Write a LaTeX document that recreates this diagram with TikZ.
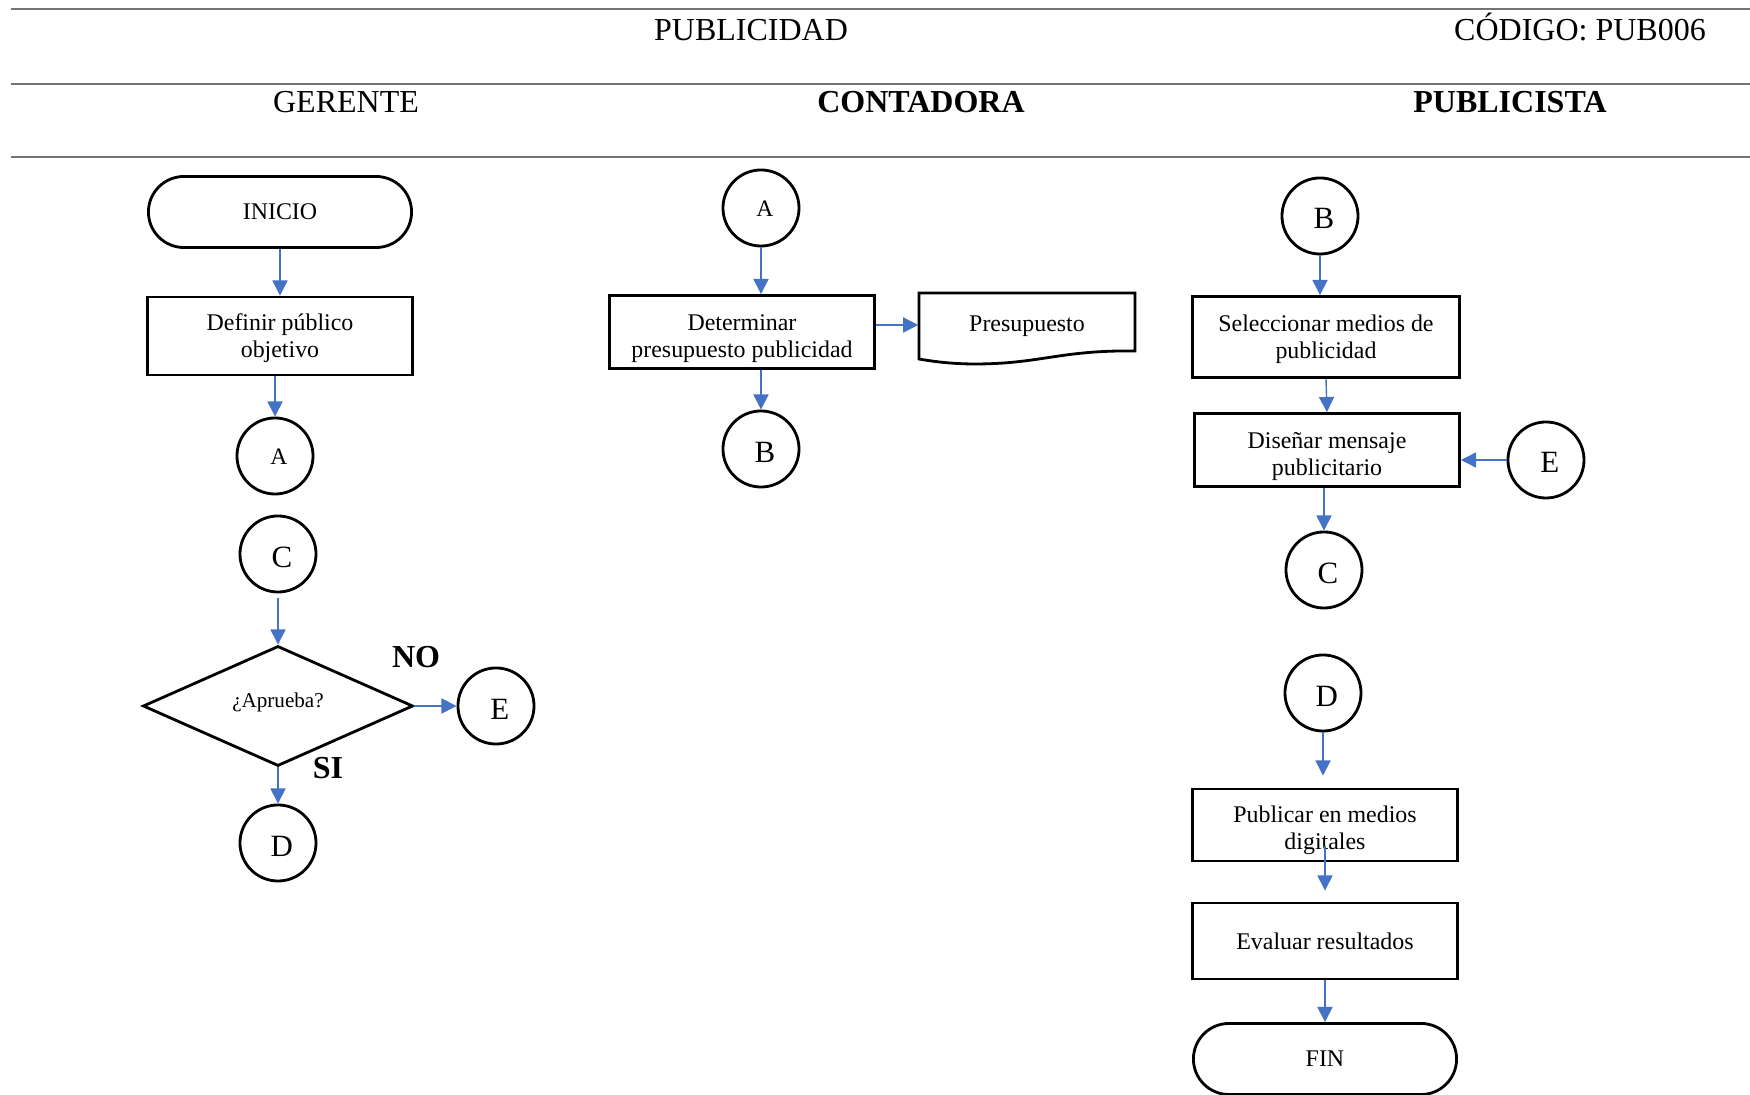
\documentclass[tikz,border=0pt]{standalone}
\usepackage{fontspec}
\setmainfont{Liberation Serif}
\usetikzlibrary{shapes.geometric,shapes.misc,arrows.meta}
\definecolor{azul}{RGB}{68,114,196}
% puntal para bajar el texto de una caja
\newcommand{\bajar}[1]{\rule{0pt}{#1}}

\begin{document}
\begin{tikzpicture}[x=0.01cm,y=-0.01cm,
        linea/.style={line width=0.8pt},
        titulo/.style={anchor=base,font=\fontsize{9.1}{11}\selectfont},
        caja/.style={draw,linea,rectangle,align=center,inner sep=0pt,
            minimum width=2.65cm,font=\fontsize{6.8}{7.7}\selectfont},
        terminal/.style={draw,linea,rounded rectangle,inner sep=0pt,
            minimum width=2.63cm,minimum height=0.71cm,font=\fontsize{6.8}{7.7}\selectfont},
        decision/.style={draw,linea,diamond,aspect=2.25,inner sep=0pt,text depth=3.3pt,
            minimum width=2.7cm,minimum height=1.2cm,font=\fontsize{6.0}{7}\selectfont},
        conector/.style={draw,linea,circle,minimum size=0.76cm,inner sep=0pt,
            text height=7.4pt,text depth=0pt,execute at begin node={\hspace*{2.2pt}},
            font=\fontsize{8.8}{10}\selectfont},
        chico/.style={font=\fontsize{6.7}{8}\selectfont,text height=4.6pt},
        etiqueta/.style={font=\fontsize{9.1}{11}\selectfont\bfseries},
        flecha/.style={draw=azul,line width=0.4pt,-{Triangle[length=4.3pt,width=4.3pt]}}]

        \useasboundingbox (0,0) rectangle (1750,1095);

        % Encabezado
        \draw[black!55,line width=0.6pt] (11,9) -- (1750,9);
        \draw[black!55,line width=0.6pt] (11,84) -- (1750,84);
        \draw[black!55,line width=0.6pt] (11,157) -- (1750,157);
        \node[titulo] (publicidad) at (751,41) {PUBLICIDAD};
        \node[titulo] (codigo) at (1580,41) {CÓDIGO: PUB006};
        \node[titulo] (gerente) at (346,113) {GERENTE};
        \node[titulo,font=\fontsize{9.1}{11}\selectfont\bfseries] (contadora) at (921,113) {CONTADORA};
        \node[titulo,font=\fontsize{9.1}{11}\selectfont\bfseries] (publicista) at (1510,113) {PUBLICISTA};

        % Gerente
        \node[terminal] (inicio) at (280,212) {INICIO};
        \node[caja,minimum height=0.78cm] (definir) at (280,336) {\bajar{6pt}Definir público\\objetivo};
        \node[conector,chico] (ga) at (275,456) {A};
        \node[conector] (gc) at (278,554) {C};
        \node[decision] (aprueba) at (278,706) {¿Aprueba?};
        \node[conector] (ge) at (496,706) {E};
        \node[conector] (gd) at (278,843) {D};
        \node[etiqueta] (no) at (416,657) {NO};
        \node[etiqueta] (si) at (328,768) {SI};

        \draw[flecha] (inicio.south) -- (definir.north);
        \draw[flecha] (definir.south -| ga.north) -- (ga.north);
        \draw[flecha,shorten <=0.05cm] (gc.south) -- (aprueba.north);
        \draw[flecha] (aprueba.east) -- (ge.west);
        \draw[flecha] (aprueba.south) -- (gd.north);

        % Contadora
        \node[conector,chico] (ca) at (761,208) {A};
        \node[caja,minimum height=0.73cm] (determinar) at (742,332) {\bajar{8.5pt}Determinar\\presupuesto publicidad};
        \draw[linea] (919,293) -- (1135,293) -- (1135,351)
            .. controls (1060,350) and (1040,364) .. (975,364)
            .. controls (950,364) and (930,361) .. (919,359) -- cycle;
        \node[minimum width=2.16cm,inner sep=0pt,font=\fontsize{6.8}{7.7}\selectfont]
            (presupuesto) at (1027,326) {Presupuesto};
        \node[conector] (cb) at (761,449) {B};

        \draw[flecha] (ca.south) -- (ca.south |- determinar.north);
        \draw[flecha] (determinar.east |- 0,325) -- (presupuesto.west |- 0,325);
        \draw[flecha] (cb.north |- determinar.south) -- (cb.north);

        % Publicista
        \node[conector] (pb) at (1320,216) {B};
        \node[caja,minimum width=2.67cm,minimum height=0.81cm] (seleccionar) at (1326,337) {\bajar{6pt}Seleccionar medios de\\publicidad};
        \node[caja,minimum height=0.73cm] (disenar) at (1327,450) {\bajar{8.5pt}Diseñar mensaje\\publicitario};
        \node[conector] (pe) at (1546,460) {E};
        \node[conector] (pc) at (1324,570) {C};
        \node[conector] (pd) at (1323,693) {D};
        \node[caja,minimum height=0.72cm] (publicar) at (1325,825) {\bajar{7.9pt}Publicar en medios\\digitales};
        \node[caja,minimum height=0.76cm] (evaluar) at (1325,941) {Evaluar resultados};
        \node[terminal] (fin) at (1325,1059) {FIN};

        \draw[flecha] (pb.south) -- (pb.south |- seleccionar.north);
        \draw[flecha] (seleccionar.south) -- (disenar.north);
        \draw[flecha] (pe.west) -- (pe.west -| disenar.east);
        \draw[flecha] (pc.north |- disenar.south) -- (pc.north);
        \draw[flecha,shorten >=0.12cm] (pd.south) -- (pd.south |- publicar.north);
        \draw[flecha,shorten <=-0.16cm,shorten >=0.11cm] (publicar.south) -- (evaluar.north);
        \draw[flecha] (evaluar.south) -- (fin.north);
    \end{tikzpicture}
\end{document}
